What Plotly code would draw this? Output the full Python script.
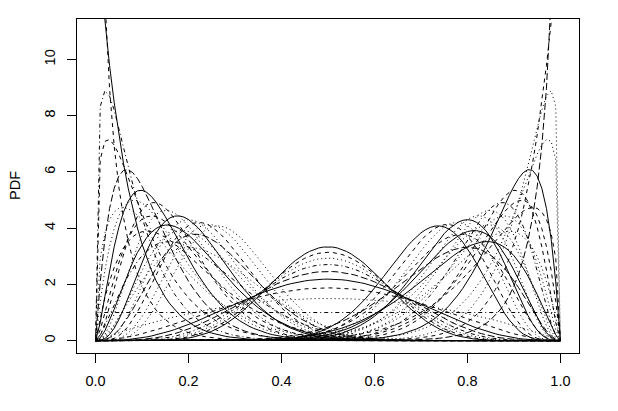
import numpy as np
import plotly.graph_objects as go
from math import lgamma

# Shape parameters of the Beta densities
centre_shape = [1, 2, 3, 4, 5, 6, 7, 8, 9]                       # Beta(a, a)
skew_small = [0.6, 1.0, 1.3, 2.0, 2.5, 3.0, 3.5, 4.0, 4.5, 5.0, 5.5, 6.0,
              1.3, 2.0, 2.5, 3.0, 3.5, 4.0,
              1.5, 2.0, 2.5, 3.0]
skew_large = [15, 15, 15, 15, 15, 15, 15, 15, 15, 15, 15, 15,
              12, 12, 12, 12, 12, 12,
              9, 9, 9, 9]
x_grid = np.round(np.arange(0, 1.0001, 0.01), 4)
x_ticks = [0.0, 0.2, 0.4, 0.6, 0.8, 1.0]
y_ticks = [0, 2, 4, 6, 8, 10]
y_label = "PDF"

# R line types: 1 solid, 2 dashed, 3 dotted, 4 dotdash, 5 longdash
LTY = {1: "solid", 2: "4px,4px", 3: "1px,3px", 4: "1px,3px,4px,3px", 5: "7px,3px"}
centre_lty = [4, 3, 2, 1, 5, 4, 3, 2, 1]
left_lty = [2, 1, 4, 5, 1, 2, 3, 1, 3, 2, 3, 3,
            2, 3, 2, 1, 3, 5,
            3, 2, 4, 3]
right_lty = [5, 2, 3, 1, 2, 4, 3, 3, 1, 3, 2, 1,
             3, 2, 3, 3, 1, 2,
             2, 3, 1, 5]

# page body adds an 8 px offset
PAGE_OFFSET = 8


def beta_pdf(x, a, b):
    lb = lgamma(a) + lgamma(b) - lgamma(a + b)
    with np.errstate(divide="ignore", invalid="ignore"):
        y = np.exp((a - 1) * np.log(x) + (b - 1) * np.log1p(-x) - lb)
    return [float(v) if np.isfinite(v) else None for v in y]


fig = go.Figure()


def add_curve(a, b, lty):
    fig.add_trace(go.Scatter(
        x=x_grid, y=beta_pdf(x_grid, a, b), mode="lines",
        line=dict(color="black", width=1, dash=LTY[lty]),
        showlegend=False, hoverinfo="skip"))


for a, b, l1, l2 in zip(skew_small, skew_large, left_lty, right_lty):
    add_curve(a, b, l1)
    add_curve(b, a, l2)
for a, l in zip(centre_shape, centre_lty):
    add_curve(a, a, l)

axis_font = dict(family="Liberation Sans, Arial, sans-serif", size=14.5, color="black")
common = dict(showline=True, mirror=True, linecolor="black", linewidth=1,
              ticks="outside", ticklen=9, tickcolor="black", tickwidth=1,
              showgrid=False, zeroline=False, automargin=False, tickfont=axis_font)
W, H = 618 - PAGE_OFFSET, 411 - PAGE_OFFSET
L, T, R, B = 77 - PAGE_OFFSET, 19 - PAGE_OFFSET, 618 - 579, 411 - 353
fig.update_layout(
    width=W, height=H,
    margin=dict(l=L, r=R, t=T, b=B),
    paper_bgcolor="white", plot_bgcolor="white",
    font=axis_font,
    xaxis=dict(range=[-0.04, 1.04], tickvals=x_ticks,
               ticktext=[f"{v:.1f}" for v in x_ticks], ticklabelstandoff=6, **common),
    yaxis=dict(range=[-0.44, 11.44], tickvals=y_ticks,
               ticktext=[str(v) for v in y_ticks], tickangle=-90,
               ticklabelstandoff=6, **common),
    annotations=[dict(text=y_label, xref="paper", yref="paper",
                      x=(15 - 77) / (579 - 77), y=0.5, xanchor="center", yanchor="middle",
                      textangle=-90, showarrow=False, font=axis_font)],
)
fig.write_html("out.html")
